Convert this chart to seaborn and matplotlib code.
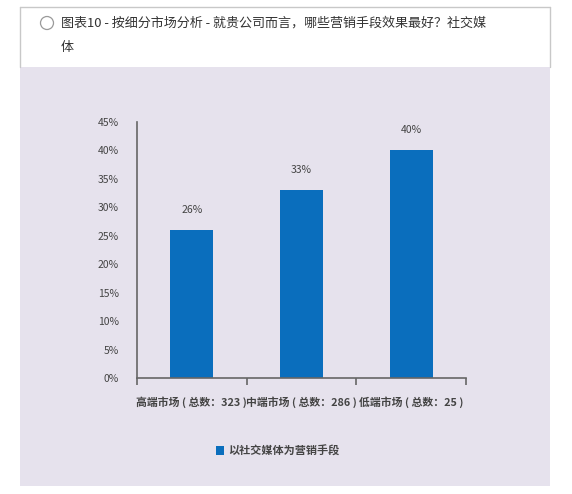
import matplotlib
matplotlib.use("Agg")
import matplotlib.pyplot as plt
import matplotlib.patches as mpatches
from matplotlib.lines import Line2D
import seaborn as sns
import pandas as pd

categories = ["高端市场 ( 总数：323 )", "中端市场 ( 总数：286 )", "低端市场 ( 总数：25 )"]
values = [26, 33, 40]
series_name = "以社交媒体为营销手段"
yticks = [0, 5, 10, 15, 20, 25, 30, 35, 40, 45]
title = "图表10 - 按细分市场分析 - 就贵公司而言，哪些营销手段效果最好？社交媒"
title2 = "体"

sns.set_theme(style="white")
plt.rcParams['font.family'] = ['Noto Sans CJK SC', 'DejaVu Sans']

W, H = 572, 494
fig = plt.figure(figsize=(W / 100, H / 100), dpi=100)
fig.patch.set_facecolor("white")

def fx(px):
    return px / W

def fy(py):
    return 1 - py / H

# grey panel
fig.add_artist(mpatches.Rectangle((fx(20), fy(486)), fx(550) - fx(20), fy(67) - fy(486),
                                  transform=fig.transFigure, facecolor="#E6E2ED",
                                  edgecolor="none", zorder=0))
# header border
for xs, ys in [([20, 550], [7, 7]), ([20, 20], [7, 67]), ([550, 550], [7, 67])]:
    fig.add_artist(Line2D([fx(x) for x in xs], [fy(y) for y in ys],
                          transform=fig.transFigure, color="#C8C8C8", lw=1))
# radio circle
fig.add_artist(mpatches.Ellipse((fx(47), fy(23)), 13 / W, 13 / H, transform=fig.transFigure,
                                facecolor="white", edgecolor="#9A9A9A", lw=0.9))
fig.text(fx(61), fy(23), title, fontsize=9.4, color="#333333", va="center", ha="left")
fig.text(fx(61), fy(48), title2, fontsize=9.4, color="#333333", va="center", ha="left")

ax = fig.add_axes([fx(137), fy(378), fx(466) - fx(137), fy(122) - fy(378)])
ax.set_facecolor("none")

df = pd.DataFrame({"cat": categories, "val": values})
sns.barplot(data=df, x="cat", y="val", color="#0A6EBD", saturation=1, width=0.39,
            ax=ax, label=series_name, edgecolor="none", linewidth=0)

ax.set_ylim(0, 45)
ax.set_xlim(-0.5, 2.5)
ax.set_yticks(yticks)
ax.set_yticklabels([f"{v}%" for v in yticks], fontsize=7.5, color="#444444")
ax.set_xticks(range(len(categories)))
ax.set_xticklabels(categories, fontsize=7.8, color="#444444", fontweight="bold")
ax.set_xticks([-0.5, 0.5, 1.5, 2.5], minor=True)
ax.tick_params(axis="x", which="major", length=0, pad=13, bottom=False)
ax.tick_params(axis="x", which="minor", length=5, width=1.2, color="#666666",
               direction="out", bottom=True)
ax.tick_params(axis="y", length=0, pad=13)
ax.set_xlabel("")
ax.set_ylabel("")
for s in ["top", "right"]:
    ax.spines[s].set_visible(False)
for s in ["left", "bottom"]:
    ax.spines[s].set_color("#666666")
    ax.spines[s].set_linewidth(1.2)

for c in ax.containers:
    ax.bar_label(c, labels=[f"{v}%" for v in values], padding=11, fontsize=7.5, color="#444444")

handles, labels = ax.get_legend_handles_labels()
if ax.get_legend() is not None:
    ax.get_legend().remove()
fig.legend(handles, labels, loc="center", bbox_to_anchor=(fx(278), fy(451)), frameon=False,
           handlelength=0.7, handleheight=0.9, handletextpad=0.4,
           prop={"weight": "bold", "size": 8})
for t in fig.legends[0].get_texts():
    t.set_color("#444444")

fig.savefig("out.png", dpi=100, facecolor="white")
